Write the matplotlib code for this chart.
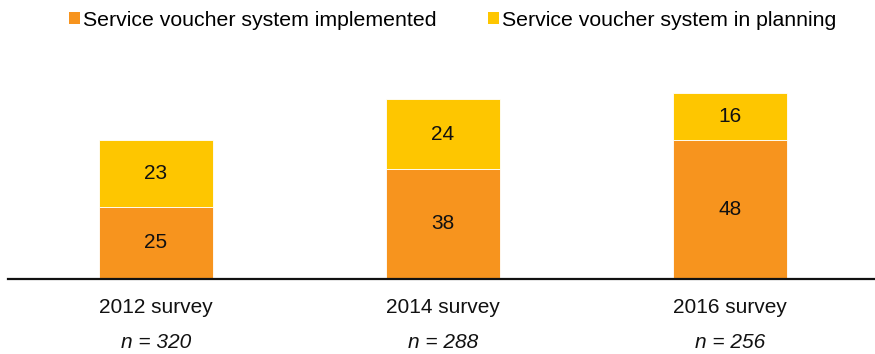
import matplotlib
matplotlib.use("Agg")
import matplotlib.pyplot as plt
from matplotlib.patches import Patch
from matplotlib.transforms import blended_transform_factory

plt.rcParams['font.family'] = ['Liberation Sans', 'DejaVu Sans']

categories = ["2012 survey", "2014 survey", "2016 survey"]
sample_sizes = ["320", "288", "256"]
implemented = [25, 38, 48]
planning = [23, 24, 16]
series_names = ["Service voucher system implemented", "Service voucher system in planning"]

orange = "#F7941E"
yellow = "#FEC600"
ink = "#111111"
fs = 15

fig = plt.figure(figsize=(8.75, 3.54), dpi=100)
W, H = 875, 354
ax = fig.add_axes([8 / W, (H - 279) / H, 1 - 8 / W, 203 / H])

x = list(range(len(categories)))
bw = 0.397
ax.bar(x, implemented, width=bw, color=orange, edgecolor="white", linewidth=0.6)
ax.bar(x, planning, width=bw, bottom=implemented, color=yellow, edgecolor="white", linewidth=0.6)

for xi, a, b in zip(x, implemented, planning):
    ax.text(xi, a / 2, str(a), ha="center", va="center", fontsize=fs, color=ink)
    ax.text(xi, a + b / 2, str(b), ha="center", va="center", fontsize=fs, color=ink)

ax.set_xlim(-0.5157, 2.505)
ax.set_ylim(0, 70)
for s in ["top", "right", "left"]:
    ax.spines[s].set_visible(False)
ax.spines["bottom"].set_linewidth(1.6)
ax.spines["bottom"].set_color(ink)
ax.set_yticks([])
ax.set_xticks(x)
ax.set_xticklabels(categories, fontsize=fs, color=ink)
ax.tick_params(axis="x", length=0, pad=14)

trans = blended_transform_factory(ax.transData, ax.transAxes)
for xi, n in zip(x, sample_sizes):
    ax.annotate("n = " + n, xy=(xi, 0), xycoords=trans, xytext=(0, -45.5),
                textcoords="offset points", ha="center", va="center",
                fontsize=fs, style="italic", color=ink)

handles = [Patch(facecolor=orange, edgecolor="none"), Patch(facecolor=yellow, edgecolor="none")]
fig.legend(handles, series_names, loc="center left", bbox_to_anchor=(69 / W, 1 - 20 / H),
           ncol=2, frameon=False, fontsize=15.3, handlelength=0.53, handleheight=0.53,
           handletextpad=0.15, columnspacing=2.4, borderaxespad=0, borderpad=0)

fig.savefig("out.png", dpi=100)
